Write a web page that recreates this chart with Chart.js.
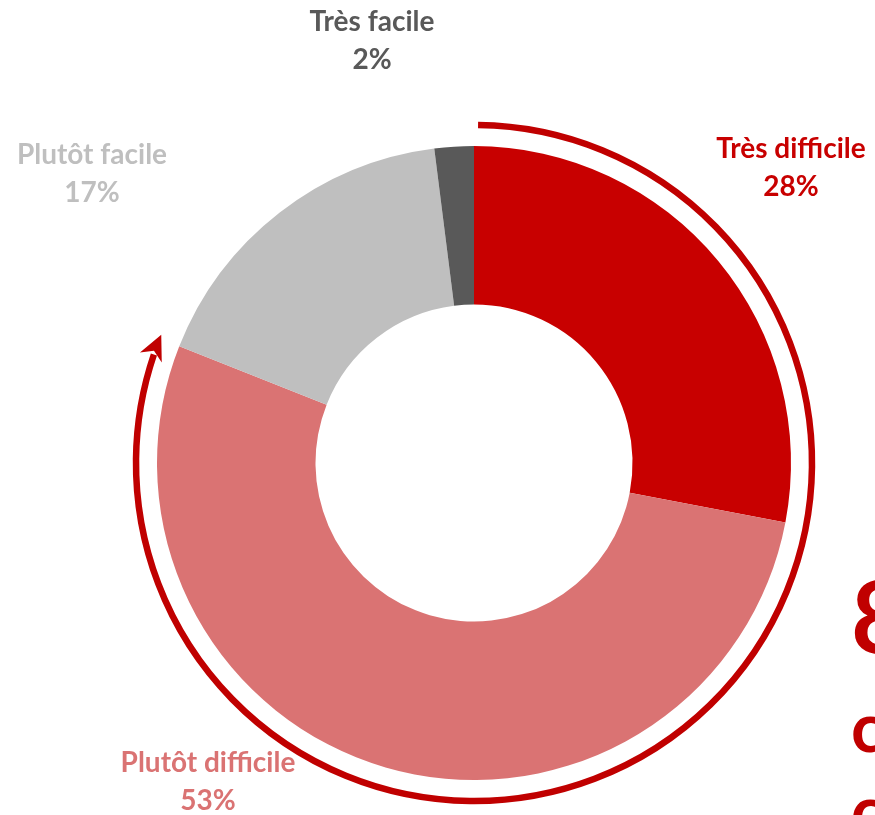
<!DOCTYPE html>
<html>
<head>
<meta charset="utf-8">
<script src="https://cdn.jsdelivr.net/npm/chart.js@4"></script>
<style>
  html, body { margin: 0; padding: 0; background: #fff; }
  #wrap { width: 875px; height: 815px; position: relative; overflow: hidden; }
</style>
</head>
<body>
<div id="wrap"><canvas id="donutChart" width="875" height="815"></canvas></div>
<script>
const categories = ['Très difficile', 'Plutôt difficile', 'Plutôt facile', 'Très facile'];
const values = [28, 53, 17, 2];
const colors = ['#C80000', '#DA7373', '#BFBFBF', '#595959'];
// label anchor offsets from the centre (style only)
const labelPos = [[317, -314], [-266, 300], [-382, -308], [-102, -441]];
const bigLines = ['81%', 'considèrent', 'cela difficile'];

const FONT = 'Lato, "Open Sans", sans-serif';

const decorations = {
  id: 'decorations',
  afterDatasetsDraw(chart) {
    const c = chart.ctx;
    const meta = chart.getDatasetMeta(0);
    const arc0 = meta.data[0];
    const cx = arc0.x, cy = arc0.y, R = arc0.outerRadius;

    // arrow around the two "difficile" slices
    const r = R + 21;
    const start = arc0.startAngle + 0.012;
    const end = meta.data[1].endAngle - 0.05;
    c.save();
    c.strokeStyle = '#C00000';
    c.lineWidth = 6.5;
    c.beginPath();
    c.arc(cx, cy, r, start, end);
    c.stroke();
    // arrowhead
    const tipA = meta.data[1].endAngle + 0.012;
    const tx = cx + r * Math.cos(tipA), ty = cy + r * Math.sin(tipA);
    const dir = tipA + Math.PI / 2 + 0.04; // tangent, clockwise direction
    const len = 25, half = 12;
    const bx = tx - len * Math.cos(dir), by = ty - len * Math.sin(dir);
    c.fillStyle = '#C00000';
    c.beginPath();
    c.moveTo(tx, ty);
    c.lineTo(bx + half * Math.cos(dir + Math.PI / 2), by + half * Math.sin(dir + Math.PI / 2));
    c.lineTo(bx + 0.3 * len * Math.cos(dir), by + 0.3 * len * Math.sin(dir));
    c.lineTo(bx - half * Math.cos(dir + Math.PI / 2), by - half * Math.sin(dir + Math.PI / 2));
    c.closePath();
    c.fill();

    // labels
    c.textAlign = 'center';
    c.textBaseline = 'middle';
    c.font = 'bold 28px ' + FONT;
    categories.forEach((cat, i) => {
      const x = cx + labelPos[i][0], y = cy + labelPos[i][1];
      c.fillStyle = colors[i];
      c.fillText(cat, x, y);
      c.fillText(values[i] + '%', x, y + 38);
    });

    // big text on the right, cut by the page edge
    c.textAlign = 'left';
    c.textBaseline = 'alphabetic';
    c.fillStyle = '#C00000';
    c.font = 'bold 99px ' + FONT;
    c.fillText(bigLines[0], 851, 653);
    c.font = 'bold 69px ' + FONT;
    c.fillText(bigLines[1], 851, 752);
    c.fillText(bigLines[2], 851, 835);
    c.restore();
  }
};

new Chart(document.getElementById('donutChart'), {
  type: 'doughnut',
  data: {
    labels: categories,
    datasets: [{
      data: values,
      backgroundColor: colors,
      borderWidth: 0
    }]
  },
  options: {
    responsive: false,
    animation: false,
    cutout: '50%',
    layout: { padding: { left: 157, right: 84, top: 146, bottom: 35 } },
    plugins: {
      legend: { display: false },
      tooltip: { enabled: false }
    }
  },
  plugins: [decorations]
});
</script>
</body>
</html>
